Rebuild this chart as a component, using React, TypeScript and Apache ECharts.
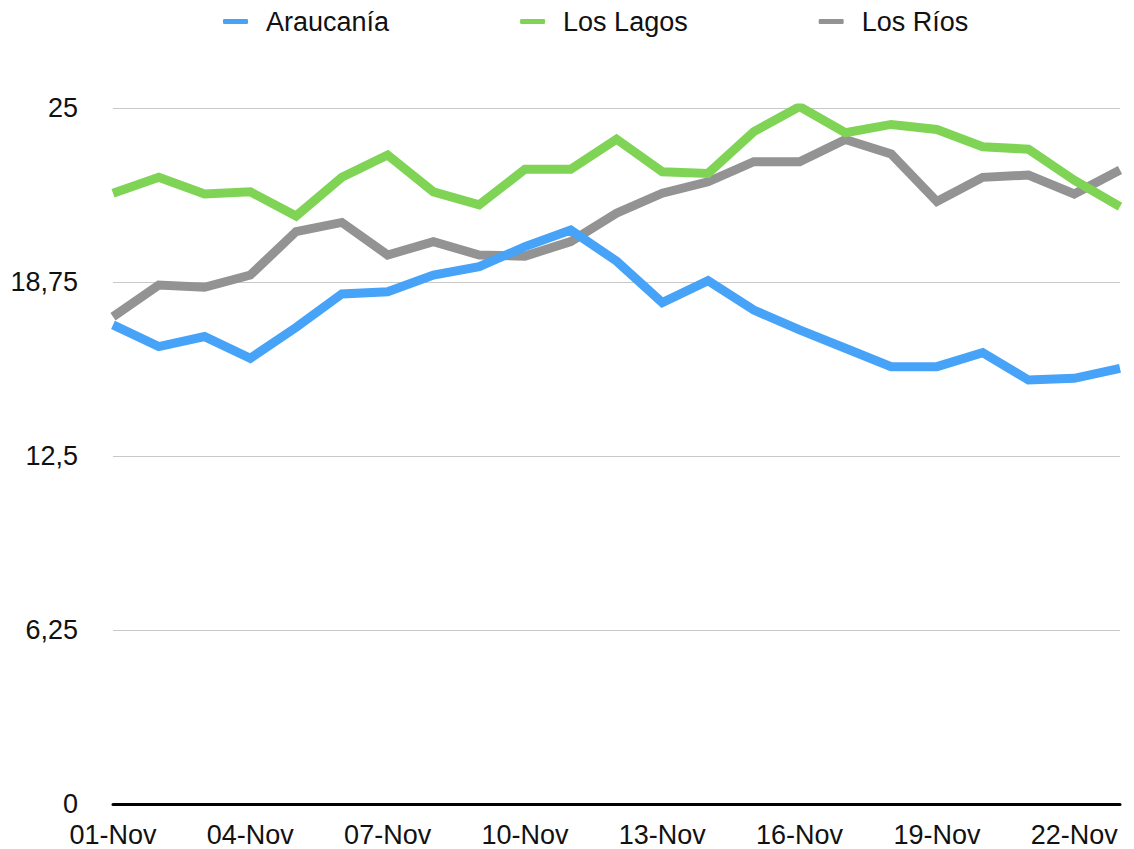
import React, { useEffect, useRef } from "react";
import * as echarts from "echarts";

const categories = [
  "01-Nov", "02-Nov", "03-Nov", "04-Nov", "05-Nov", "06-Nov", "07-Nov", "08-Nov",
  "09-Nov", "10-Nov", "11-Nov", "12-Nov", "13-Nov", "14-Nov", "15-Nov", "16-Nov",
  "17-Nov", "18-Nov", "19-Nov", "20-Nov", "21-Nov", "22-Nov", "23-Nov",
];

const araucania = [
  17.21, 16.43, 16.79, 16.01, 17.12, 18.32, 18.4, 19.0, 19.3, 20.02, 20.62, 19.5,
  18.01, 18.8, 17.74, 17.03, 16.37, 15.71, 15.71, 16.21, 15.23, 15.29, 15.65,
];

const losLagos = [
  21.94, 22.51, 21.91, 21.99, 21.12, 22.51, 23.31, 21.99, 21.52, 22.8, 22.8, 23.88,
  22.71, 22.65, 24.15, 25.05, 24.11, 24.41, 24.23, 23.61, 23.52, 22.41, 21.46,
];

const losRios = [
  17.5, 18.64, 18.56, 19.0, 20.56, 20.89, 19.72, 20.2, 19.72, 19.68, 20.2, 21.22,
  21.94, 22.35, 23.07, 23.07, 23.87, 23.35, 21.64, 22.51, 22.59, 21.91, 22.77,
];

const seriesNames = ["Araucanía", "Los Lagos", "Los Ríos"];
const yMin = 0;
const yMax = 25;
const yStep = 6.25;

const FONT = "'Liberation Sans', Arial, Helvetica, sans-serif";
const COLORS = ["#47A3F7", "#80D455", "#939393"];

export default function App() {
  const ref = useRef<HTMLDivElement>(null);

  useEffect(() => {
    if (!ref.current) return;
    const chart = echarts.init(ref.current, null, { renderer: "svg" });
    const data = [araucania, losLagos, losRios];
    chart.setOption({
      animation: false,
      backgroundColor: "#ffffff",
      textStyle: { fontFamily: FONT },
      legend: {
        top: 3,
        left: 218,
        itemWidth: 25,
        itemHeight: 5,
        itemGap: 131,
        icon: "roundRect",
        textStyle: {
          fontSize: 27,
          color: "#111",
          fontFamily: FONT,
          padding: [0, 0, 0, 13],
        },
        data: seriesNames.map((n, i) => ({
          name: n,
          itemStyle: { color: COLORS[i] },
        })),
      },
      grid: { left: 113, right: 14, top: 108, bottom: 45, containLabel: false },
      xAxis: {
        type: "category",
        data: categories,
        boundaryGap: false,
        axisTick: { show: false },
        axisLine: { lineStyle: { color: "#000", width: 3 } },
        axisLabel: {
          interval: 2,
          fontSize: 27,
          color: "#111",
          margin: 17,
          fontFamily: FONT,
        },
        splitLine: { show: false },
      },
      yAxis: {
        type: "value",
        min: yMin,
        max: yMax,
        interval: yStep,
        axisLine: { show: false },
        axisTick: { show: false },
        axisLabel: {
          fontSize: 27,
          color: "#111",
          margin: 35,
          fontFamily: FONT,
          formatter: (v: number) => String(v).replace(".", ","),
        },
        splitLine: { lineStyle: { color: "#c8c8c8", width: 1 } },
      },
      series: seriesNames.map((n, i) => ({
        name: n,
        type: "line",
        data: data[i],
        showSymbol: false,
        symbol: "none",
        z: 10 - i,
        lineStyle: { color: COLORS[i], width: 9, join: "miter" },
        itemStyle: { color: COLORS[i] },
      })),
    });
    return () => chart.dispose();
  }, []);

  return (
    <div
      ref={ref}
      style={{ position: "fixed", left: 0, top: 0, width: 1134, height: 849 }}
    />
  );
}
